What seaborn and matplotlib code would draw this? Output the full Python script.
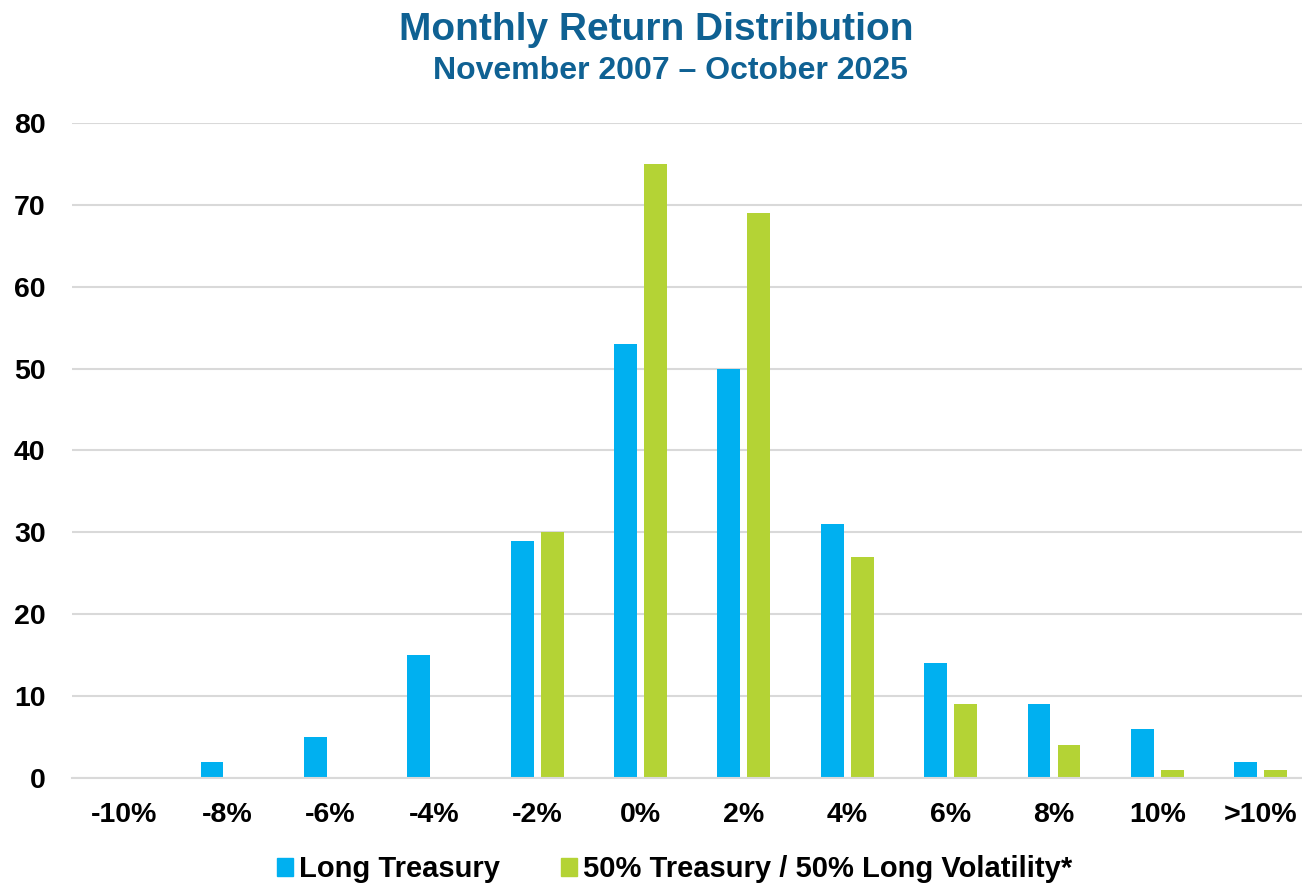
import pandas as pd
import numpy as np
import matplotlib
matplotlib.use("Agg")
import matplotlib.pyplot as plt
import seaborn as sns

# ========================= Chart data =========================
BUCKETS = ["-10%", "-8%", "-6%", "-4%", "-2%", "0%", "2%", "4%", "6%", "8%", "10%", ">10%"]
LONG_TREASURY = [0, 2, 5, 15, 29, 53, 50, 31, 14, 9, 6, 2]
TREASURY_LONG_VOL = [0, 0, 0, 0, 30, 75, 69, 27, 9, 4, 1, 1]
SERIES = ["Long Treasury", "50% Treasury / 50% Long Volatility*"]
COLORS = ["#00B0F0", "#B4D335"]
TITLE_COLOR = "#0F6193"

df = pd.DataFrame({
    "Bucket": BUCKETS * 2,
    "Count": LONG_TREASURY + TREASURY_LONG_VOL,
    "Series": [SERIES[0]] * len(BUCKETS) + [SERIES[1]] * len(BUCKETS),
})

sns.set_theme(style="white")
plt.rcParams["font.family"] = ["Liberation Sans", "DejaVu Sans"]

fig = plt.figure(figsize=(13.02, 8.86), dpi=100)
ax = fig.add_axes([0.0553, 0.1219, 0.9447, 0.7393])

sns.barplot(data=df, x="Bucket", y="Count", hue="Series", order=BUCKETS,
            hue_order=SERIES, palette=COLORS, width=0.58, gap=0.24,
            saturation=1, linewidth=0, ax=ax, legend=False)

# Cosmetics
ax.set_ylim(0, 80)
ax.set_xlim(-0.5, 11.4)
ax.set_yticks(np.arange(0, 81, 10))
ax.yaxis.grid(True, color="#D9D9D9", linewidth=1.5)
ax.set_axisbelow(True)
for side in ["top", "right", "left"]:
    ax.spines[side].set_visible(False)
ax.spines["bottom"].set_color("#D9D9D9")
ax.spines["bottom"].set_linewidth(1.5)
ax.tick_params(axis="both", length=0, labelsize=20.5)
ax.tick_params(axis="x", pad=17)
ax.tick_params(axis="y", pad=19)
for lbl in ax.get_xticklabels() + ax.get_yticklabels():
    lbl.set_fontweight("bold")
    lbl.set_color("black")
ax.set_xlabel("")
ax.set_ylabel("")

fig.text(0.504, 0.966, "Monthly Return Distribution", ha="center", va="center",
         fontsize=28, fontweight="bold", color=TITLE_COLOR)
fig.text(0.515, 0.920, "November 2007 \u2013 October 2025", ha="center", va="center",
         fontsize=23, fontweight="bold", color=TITLE_COLOR)

handles = [plt.Rectangle((0, 0), 1, 1, color=c) for c in COLORS]
fig.legend(handles, SERIES, loc="center", bbox_to_anchor=(0.518, 0.019), ncol=2,
           frameon=False, prop={"weight": "bold", "size": 21}, labelcolor="black",
           handlelength=0.55, handleheight=0.55, handletextpad=0.2, columnspacing=2.1)

fig.savefig("out.png", dpi=100)
plt.close()
